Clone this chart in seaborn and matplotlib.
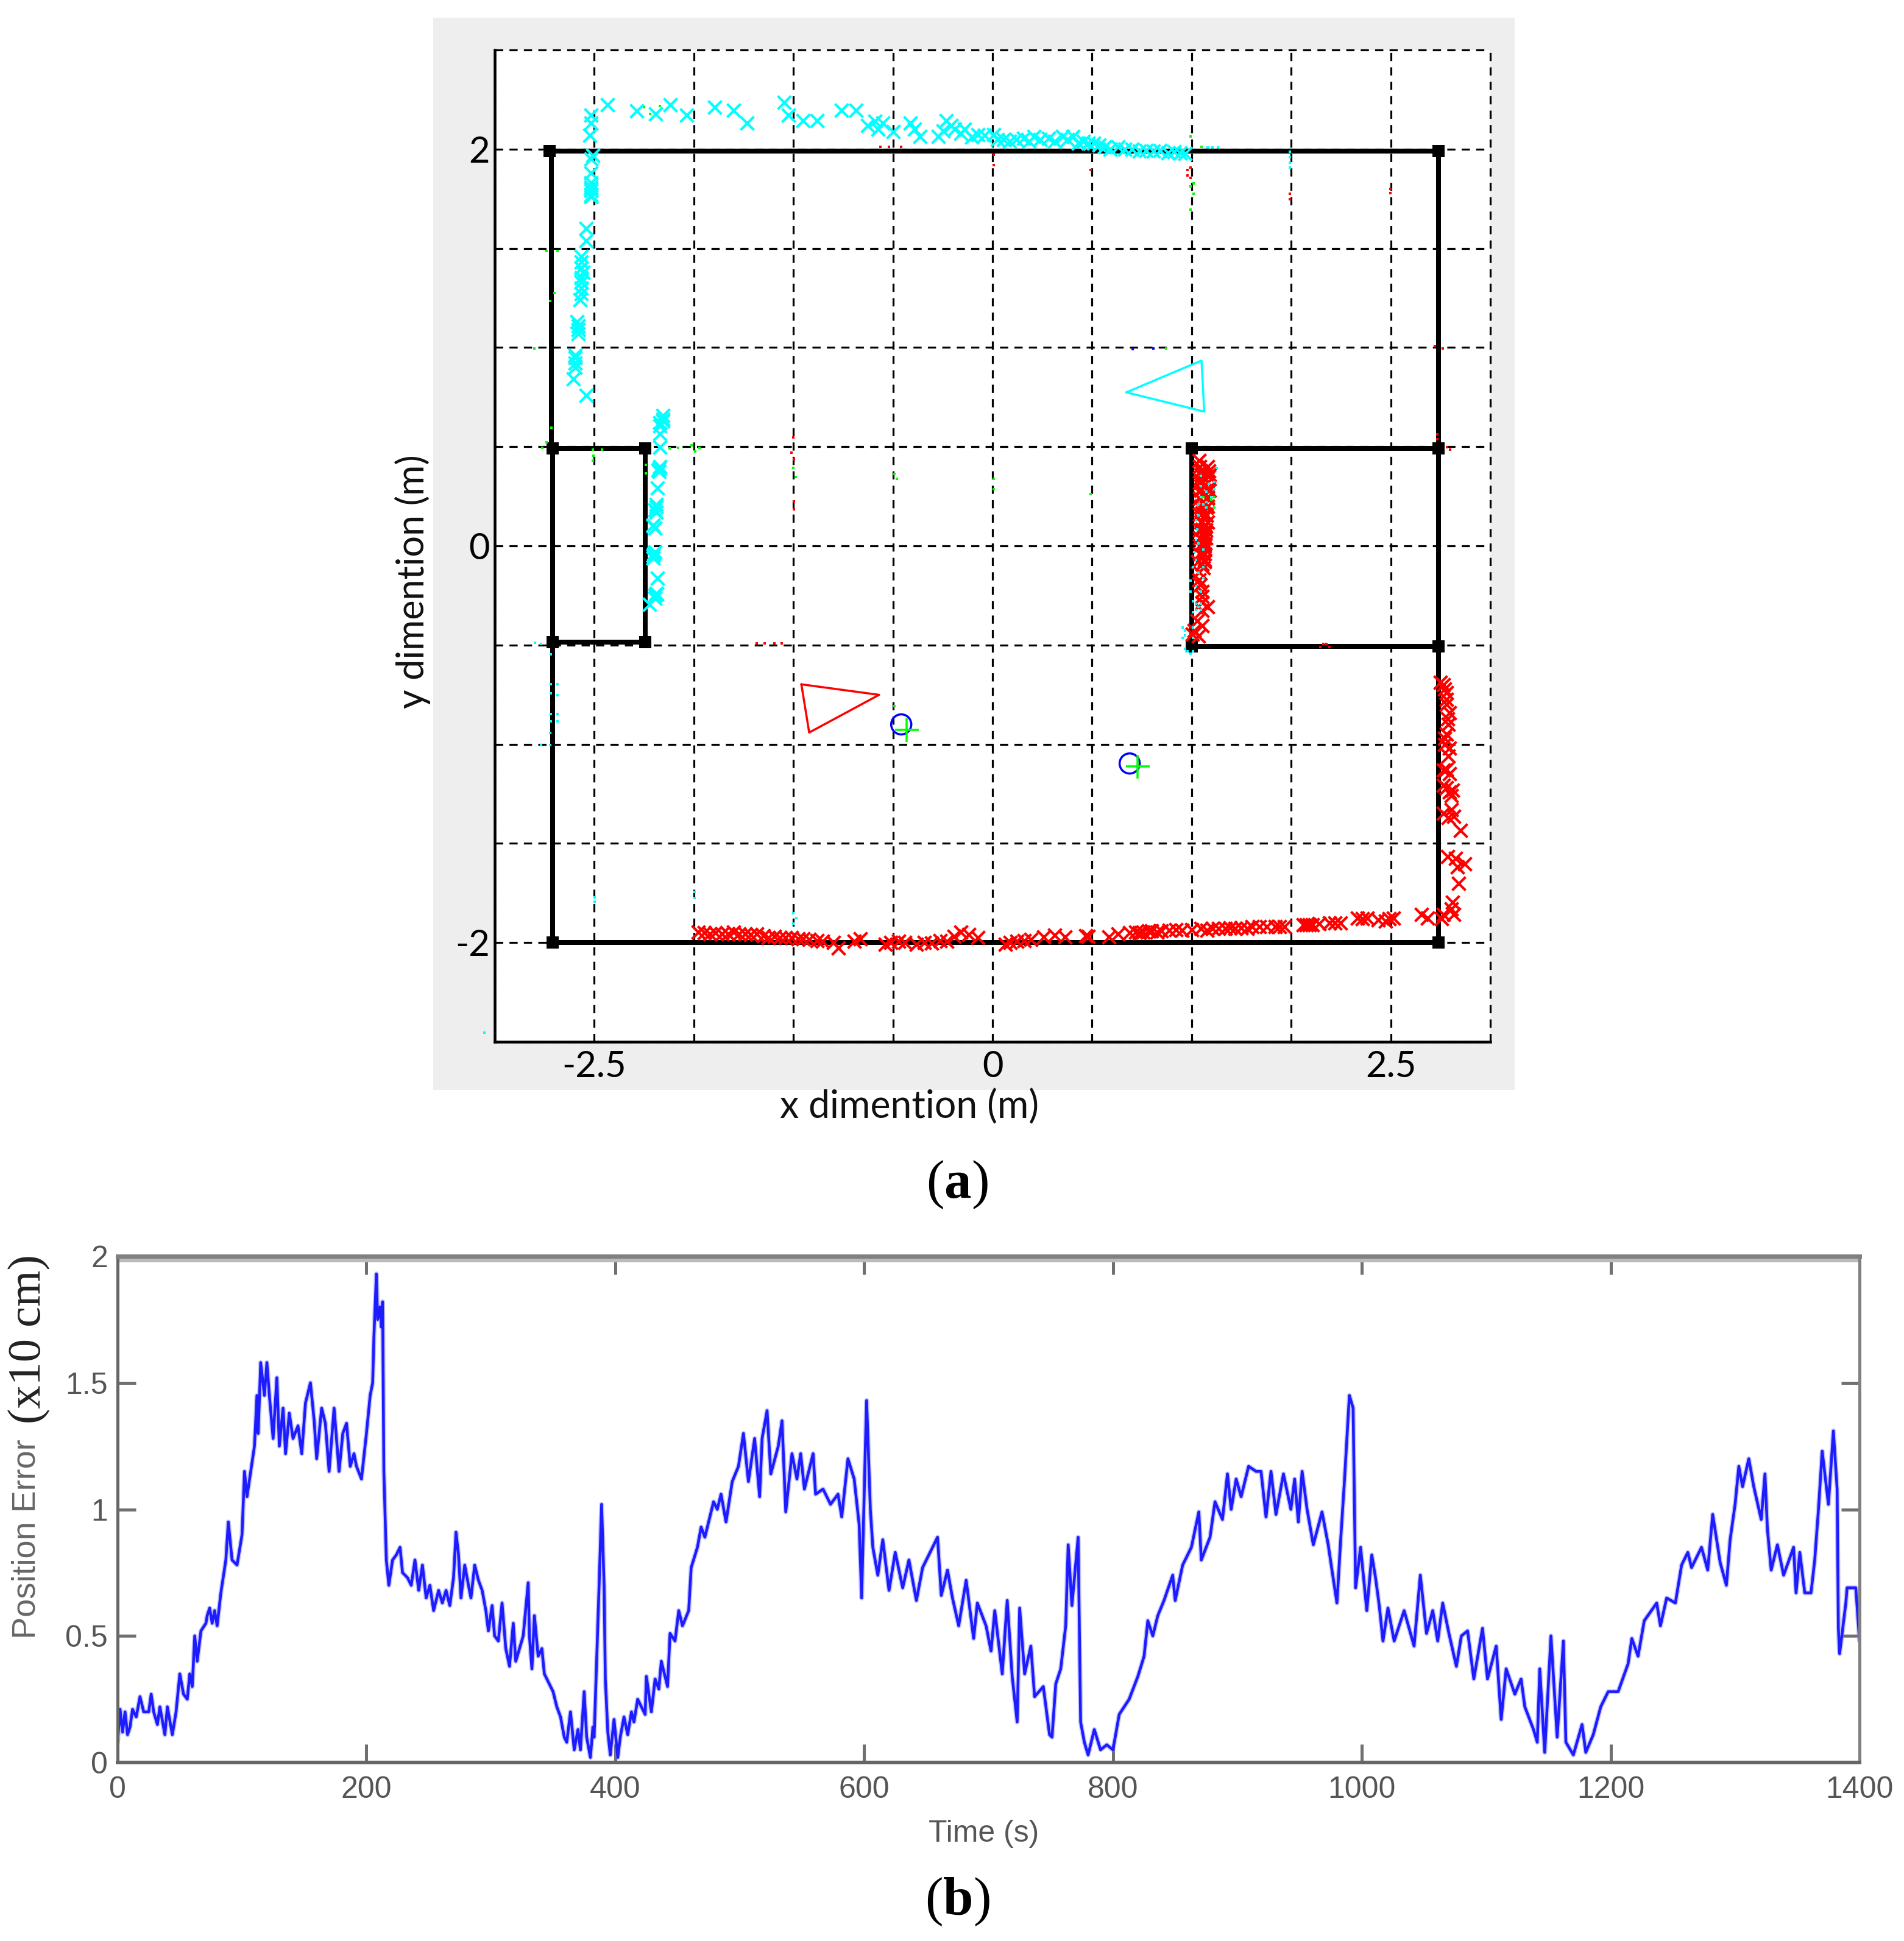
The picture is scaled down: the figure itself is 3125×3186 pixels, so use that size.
import matplotlib
matplotlib.use("Agg")
import matplotlib.pyplot as plt
from matplotlib.patches import Rectangle
import seaborn as sns

# --- panel (a): walls, metres
wall_x = [[-2.77, 2.80], [-2.77, -2.77], [-2.76, -2.76], [-2.76, -2.18], [-2.18, -2.18], [-2.76, -2.18],
          [-2.76, 2.80], [2.80, 2.80], [1.25, 2.80], [1.25, 1.25], [1.25, 2.80]]
wall_y = [[1.99, 1.99], [1.99, 0.49], [0.49, -2.0], [0.49, 0.49], [0.49, -0.485], [-0.485, -0.485],
          [-2.0, -2.0], [1.99, -2.0], [0.49, 0.49], [0.49, -0.507], [-0.507, -0.507]]
corner_x = [-2.78, 2.80, -2.76, -2.18, -2.76, -2.18, -2.76, 2.80, 1.25, 2.80, 1.25, 2.80]
corner_y = [1.99, 1.99, 0.49, 0.49, -0.485, -0.485, -2.0, -2.0, 0.49, 0.49, -0.507, -0.507]

# robot 1 scan
cyan_x = [-2.52, -2.52, -2.53, -2.51, -2.52, -2.52, -2.52, -2.52, -2.52, -2.55, -2.55, -2.58, -2.58, -2.57, -2.58,
          -2.58, -2.59, -2.60, -2.60, -2.62, -2.62, -2.63, -2.55,
          -2.417, -2.232, -2.115, -2.022, -1.919, -1.744, -1.627, -1.541, -1.31, -1.28, -1.188, -1.102, -0.949,
          -0.858, -0.785, -0.687, -0.622, -0.517, -0.456, -0.339, -0.29, -0.236, -0.175, -0.09, 0.008, 0.106,
          0.196, 0.262, 0.35, 0.438, 0.504, 0.57, 0.636, 0.702, 0.789, 0.877, 0.965, 1.053, 1.141, 1.207,
          -2.068, -2.068, -2.087, -2.087, -2.087, -2.094, -2.094, -2.103, -2.113, -2.113, -2.132, -2.119, -2.125,
          -2.132, -2.103, -2.106, -2.119, -2.154,
          -0.74, -0.72, -0.49, -0.31, -0.26, -0.20, -0.13, -0.05, 0.03, 0.07, 0.15, 0.23, 0.30, 0.39, 0.47, 0.54,
          0.60, 0.67, 0.74, 0.83, 0.92, 1.01, 1.10, 1.18,
          -2.52, -2.52, -2.52, -2.58, -2.58, -2.58, -2.61, -2.60, -2.62, -2.62,
          -2.07, -2.09, -2.09, -2.10, -2.11, -2.12, -2.13, -2.12, -2.13, -2.11, -2.12]
cyan_y = [2.17, 2.13, 2.07, 1.97, 1.88, 1.83, 1.81, 1.79, 1.77, 1.60, 1.54, 1.46, 1.43, 1.38, 1.33,
          1.30, 1.24, 1.11, 1.07, 0.95, 0.90, 0.84, 0.76,
          2.223, 2.193, 2.179, 2.223, 2.171, 2.211, 2.197, 2.13, 2.236, 2.171, 2.144, 2.144, 2.197,
          2.197, 2.118, 2.13, 2.088, 2.13, 2.065, 2.065, 2.144, 2.1, 2.1, 2.074, 2.074, 2.038,
          2.056, 2.065, 2.056, 2.065, 2.065, 2.038, 2.03, 2.012, 2.012, 2.0, 1.994, 1.994, 1.986, 1.977,
          0.656, 0.63, 0.605, 0.564, 0.497, 0.39, 0.375, 0.293, 0.196, 0.17, 0.104, 0.088, -0.04,
          -0.06, -0.162, -0.244, -0.265, -0.295,
          2.14, 2.10, 2.10, 2.09, 2.12, 2.08, 2.06, 2.07, 2.05, 2.05, 2.05, 2.04, 2.05, 2.04, 2.05, 2.03,
          2.03, 2.02, 2.0, 2.0, 1.99, 1.99, 1.98, 1.98,
          1.95, 1.80, 1.76, 1.40, 1.35, 1.27, 1.13, 1.09, 0.96, 0.92,
          0.64, 0.62, 0.40, 0.38, 0.21, 0.18, 0.10, -0.03, -0.05, -0.24, -0.25]

# robot 2 scan
red_x = [2.81, 2.839, 2.849, 2.858, 2.839, 2.868, 2.849, 2.829, 2.888, 2.829, 2.897, 2.936, 2.858, 2.907, 2.966,
         2.927, 2.888, 2.897, 2.829, 2.692, 2.732,
         2.517, 2.468, 2.351, 2.292, 2.185, 2.117, 1.99, 1.951, 1.834, 1.775, 1.677, 1.599, 1.521, 1.463, 1.346,
         1.307, 1.189, 1.111, 1.033, 0.945, 0.897, 0.789, 0.731, 0.584, 0.457, 0.389, 0.321,
         -1.846, -1.773, -1.7, -1.627, -1.553, -1.48, -1.407, -1.334, -1.261, -1.188, -1.066, -0.968, -0.87,
         -0.675, -0.59, -0.48, -0.382, -0.285, -0.2, -0.09, 0.081, 0.154, 0.24,
         1.298, 1.31, 1.358, 1.317, 1.31, 1.358, 1.336, 1.31, 1.349, 1.317, 1.349, 1.336, 1.31, 1.343, 1.317, 1.343,
         1.317, 1.336, 1.317, 1.336, 1.336, 1.336, 1.33, 1.324, 1.33, 1.317, 1.324, 1.298, 1.298, 1.305, 1.317,
         1.317, 1.317, 1.349, 1.317, 1.285, 1.317, 1.266, 1.254, 1.292,
         1.30, 1.35, 1.31, 1.36, 1.30, 1.35, 1.31, 1.36, 1.30, 1.35, 1.31, 1.35, 1.30, 1.34, 1.31, 1.35, 1.30, 1.34,
         1.30, 1.34, 1.30, 1.33, 1.30, 1.33, 1.29, 1.33,
         -1.81, -1.74, -1.66, -1.59, -1.52, -1.44, -1.37, -1.30, -1.22, -1.15, -1.10, -1.0, -0.83, -0.64, -0.55,
         -0.43, -0.33, -0.24, -0.15, 0.11, 0.2,
         0.60, 0.86, 0.92, 0.98, 1.0, 1.06, 1.15, 1.25, 1.38, 1.42, 1.49, 1.56, 1.63, 1.72, 1.8, 1.97, 2.01, 2.05,
         2.15, 2.32, 2.42, 2.49,
         2.83, 2.85, 2.85, 2.87, 2.86, 2.85, 2.84, 2.86, 2.83, 2.87, 2.85, 2.87, 2.88, 2.88, 2.86, 2.92, 2.82, 2.88]
red_y = [-0.687, -0.722, -0.775, -0.872, -0.969, -1.021, -1.127, -1.206, -1.233, -1.347, -1.365, -1.435, -1.567,
         -1.576, -1.603, -1.703, -1.796, -1.858, -1.858, -1.858, -1.876,
         -1.876, -1.893, -1.876, -1.876, -1.902, -1.902, -1.911, -1.911, -1.92, -1.92, -1.92, -1.928, -1.928, -1.928,
         -1.937, -1.928, -1.937, -1.937, -1.946, -1.946, -1.946, -1.955, -1.972, -1.967, -1.972, -1.964, -1.972,
         -1.948, -1.957, -1.957, -1.948, -1.957, -1.957, -1.975, -1.975, -1.975, -1.98, -1.992, -2.027, -1.992,
         -2.01, -1.992, -2.01, -2.001, -1.992, -1.948, -1.975, -2.01, -1.992, -1.983,
         0.431, 0.379, 0.379, 0.354, 0.328, 0.349, 0.308, 0.287, 0.287, 0.257, 0.246, 0.216, 0.195, 0.195, 0.165, 0.154,
         0.124, 0.103, 0.083, 0.062, 0.042, 0.011, -0.014, -0.04, -0.07, -0.091, -0.111, -0.132, -0.173, -0.198, -0.229,
         -0.255, -0.285, -0.306, -0.326, -0.377, -0.403, -0.428, -0.444, -0.454,
         0.40, 0.40, 0.36, 0.36, 0.32, 0.32, 0.28, 0.28, 0.24, 0.24, 0.20, 0.20, 0.16, 0.16, 0.12, 0.12, 0.08, 0.08,
         0.04, 0.04, 0.0, 0.0, -0.04, -0.04, -0.08, -0.08,
         -1.95, -1.95, -1.955, -1.955, -1.96, -1.965, -1.97, -1.975, -1.98, -1.985, -1.99, -2.0, -1.98, -2.0, -2.0,
         -2.0, -1.99, -1.97, -1.96, -2.0, -1.99,
         -1.97, -1.95, -1.95, -1.94, -1.94, -1.94, -1.935, -1.935, -1.93, -1.93, -1.925, -1.925, -1.92, -1.92, -1.92,
         -1.91, -1.91, -1.905, -1.90, -1.88, -1.885, -1.88,
         -0.70, -0.74, -0.80, -0.84, -0.90, -0.95, -1.0, -1.06, -1.13, -1.15, -1.22, -1.24, -1.26, -1.33, -1.37,
         -1.62, -1.88, -1.83]

# stray single pixels
speck_cyan_x = [1.407, 1.31, 1.391, 1.358, 1.31, 1.391, 1.343, 1.31, 1.375, 1.292, 1.343, 1.325, 1.343, 1.292, 1.276,
                1.285, 1.276, 1.292, 1.266, 1.324, 1.276, 1.26, 1.325, 1.292, 1.325, 1.243, 1.276, 1.243, 1.308, 1.26,
                1.276, 1.308, 1.292, 1.276, 1.308, 1.26, 1.26, 1.192, 1.209, 1.209, 1.192, 1.26, 1.209, 1.225, 1.26,
                1.243, 1.868, 1.868, 1.868, 1.868, 1.349, 1.382, 1.415, -2.773, -2.773, -2.732, -2.773, -2.732, -2.773,
                -2.732, -2.773, -2.732, -2.778, -2.834, -2.778, -2.498, -2.498, -1.871, -1.871, -1.249, -1.232, -1.249,
                -3.19, -2.871, -2.834]
speck_cyan_y = [0.392, 0.352, 0.323, 0.313, 0.30, 0.287, 0.272, 0.246, 0.246, 0.208, 0.221, 0.208, 0.195, 0.154, 0.129,
                0.083, 0.032, 0.011, -0.03, -0.019, -0.07, -0.109, -0.109, -0.134, -0.163, -0.175, -0.203, -0.229, -0.229,
                -0.28, -0.293, -0.293, -0.308, -0.321, -0.321, -0.334, -0.413, -0.413, -0.426, -0.451, -0.464, -0.464,
                -0.518, -0.531, -0.531, -0.544, 1.986, 1.96, 1.933, 1.906, 2.01, 2.01, 2.01, -0.548, -0.698, -0.698,
                -0.742, -0.751, -0.848, -0.848, -0.883, -0.883, -0.944, -1.003, -1.003, -1.772, -1.793, -1.746, -1.776,
                -1.851, -1.878, -1.904, -2.454, -0.487, -0.495]
speck_green_x = [-2.188, -2.151, -2.09, -2.798, -2.732, -2.749, -2.778, -2.878, -2.768, -2.798, -2.827, -2.51, -2.451,
                 -2.505, -2.51, -2.029, -1.973, -1.89, -1.866, -1.841, -2.176, -2.176, -1.249, -1.236, -0.614, -0.602,
                 0.008, 0.008, 1.242, 1.312, 1.261, 1.242, 1.261, 1.242, 1.092, 0.616, -0.614, 1.325, 1.391, 1.375, 1.391]
speck_green_y = [2.211, 2.179, 2.218, 1.487, 1.487, 1.276, 1.234, 0.996, 0.595, 0.521, 0.496, 0.485, 0.485,
                 0.454, 0.431, 0.492, 0.496, 0.506, 0.475, 0.496, 0.41, 0.366, 0.392, 0.348, 0.362, 0.339,
                 0.339, 0.286, 2.065, 2.012, 1.827, 1.813, 1.774, 1.695, 0.996, 0.26, -0.807, 0.246, 0.246, 0.233, 0.194]
speck_red_x = [-0.705, -0.651, -0.573, 0.008, 0.008, -1.249, -1.261, -1.246, -1.246, -1.246, 0.616, 1.242, 1.224, 1.224,
               1.242, 1.868, 1.868, 2.496, 2.496, 2.777, 2.827, 2.792, 2.792, 2.854, 2.871, -1.48, -1.432, -1.37, -1.322,
               2.058, 2.078, 2.097, 2.117]
speck_red_y = [2.012, 2.012, 2.012, 1.972, 1.92, 0.547, 0.471, 0.436, 0.225, 0.184, 1.894, 1.906, 1.894, 1.868,
               1.854, 1.774, 1.748, 1.801, 1.778, 1.008, 0.996, 0.563, 0.538, 0.498, 0.485, -0.49, -0.49, -0.49, -0.49,
               -0.511, -0.493, -0.493, -0.511]
speck_blue_x = [0.879, 1.011]
speck_blue_y = [0.991, 0.996]

# robots and goals
tri_red_x = [-1.20, -0.712, -1.151, -1.20]
tri_red_y = [-0.698, -0.751, -0.941, -0.698]
tri_cyan_x = [0.84, 1.312, 1.329, 0.84]
tri_cyan_y = [0.774, 0.934, 0.677, 0.774]
circle_x = [-0.573, 0.861]
circle_y = [-0.90, -1.097]
plus_x = [-0.539, 0.912]
plus_y = [-0.927, -1.111]

grid_x = [-3.125, -2.5, -1.875, -1.25, -0.625, 0, 0.625, 1.25, 1.875, 2.5, 3.125]
grid_x_labels = ["", "-2.5", "", "", "", "0", "", "", "", "2.5", ""]
grid_y = [-2.5, -2, -1.5, -1, -0.5, 0, 0.5, 1, 1.5, 2, 2.5]
grid_y_labels = ["", "-2", "", "", "", "0", "", "", "", "2", ""]

# --- panel (b): position error against time
time_s = [0, 2, 4, 6, 8, 10, 12, 15, 18, 21, 25, 27, 29, 32, 34, 38, 40, 44, 47, 50, 53, 56, 58, 60, 62, 64, 67, 71,
          72, 74, 76, 78, 80, 83, 87, 89, 92, 96, 100, 102, 104, 107, 110, 112, 113, 115, 118, 120, 122, 125, 128,
          130, 133, 135, 138, 141, 145, 148, 151, 155, 158, 160, 164, 167, 170, 174, 178, 181, 184, 187, 190, 192,
          196, 200, 203, 205, 206, 208, 209, 211, 212, 213, 214, 216, 218, 221, 224, 227, 229, 233, 236, 239, 242,
          245, 248, 251, 254, 258, 261, 264, 267, 270, 272, 274, 276, 279, 282, 284, 287, 290, 293, 296, 298, 301,
          303, 306, 309, 312, 315, 318, 320, 323, 326, 330, 331, 333, 335, 338, 341, 343, 346, 350, 353, 356, 359,
          361, 364, 367, 370, 372, 375, 377, 380, 382, 383, 385, 387, 389, 391, 392, 394, 396, 399, 402, 404, 407,
          410, 413, 415, 418, 424, 425, 429, 432, 435, 437, 442, 444, 448, 451, 454, 459, 461, 466, 469, 472, 479,
          482, 485, 489, 494, 499, 503, 507, 512, 516, 518, 522, 525, 531, 534, 537, 542, 546, 549, 552, 559, 561,
          567, 573, 579, 582, 587, 592, 596, 598, 601, 602, 605, 607, 611, 615, 620, 625, 631, 636, 642, 647, 653,
          659, 662, 667, 671, 676, 682, 688, 691, 698, 702, 705, 711, 715, 719, 723, 725, 729, 734, 737, 744, 749,
          751, 754, 758, 762, 764, 767, 772, 774, 777, 780, 785, 790, 795, 800, 805, 813, 820, 825, 828, 832, 836,
          841, 848, 850, 856, 863, 869, 871, 878, 882, 888, 892, 895, 899, 903, 909, 915, 919, 923, 927, 931, 937,
          943, 946, 949, 952, 956, 961, 968, 973, 976, 980, 983, 986, 990, 993, 995, 999, 1004, 1008, 1011, 1014,
          1017, 1021, 1026, 1034, 1042, 1047, 1052, 1057, 1061, 1065, 1070, 1076, 1080, 1085, 1090, 1097, 1101,
          1108, 1112, 1116, 1123, 1128, 1131, 1138, 1141, 1143, 1147, 1152, 1157, 1162, 1164, 1170, 1177, 1180,
          1186, 1192, 1198, 1206, 1214, 1217, 1222, 1227, 1237, 1240, 1245, 1252, 1257, 1262, 1265, 1273, 1278,
          1282, 1288, 1293, 1296, 1300, 1303, 1306, 1311, 1315, 1321, 1324, 1326, 1329, 1334, 1339, 1347, 1349,
          1352, 1356, 1361, 1364, 1367, 1370, 1375, 1379, 1382, 1383, 1384, 1389, 1390, 1397, 1400]
error_val = [0.08, 0.21, 0.12, 0.2, 0.11, 0.14, 0.21, 0.18, 0.26, 0.2, 0.2, 0.27, 0.2, 0.15, 0.22, 0.11, 0.22, 0.11,
             0.2, 0.35, 0.27, 0.25, 0.35, 0.3, 0.5, 0.4, 0.52, 0.55, 0.58, 0.61, 0.55, 0.6, 0.54, 0.67, 0.8, 0.95,
             0.8, 0.78, 0.9, 1.15, 1.05, 1.15, 1.25, 1.45, 1.3, 1.58, 1.45, 1.58, 1.45, 1.28, 1.52, 1.25, 1.4, 1.22,
             1.38, 1.28, 1.33, 1.22, 1.42, 1.5, 1.35, 1.2, 1.4, 1.34, 1.15, 1.4, 1.15, 1.3, 1.34, 1.17, 1.22, 1.17,
             1.12, 1.3, 1.45, 1.5, 1.68, 1.93, 1.75, 1.8, 1.72, 1.82, 1.15, 0.8, 0.7, 0.8, 0.82, 0.85, 0.75, 0.73,
             0.7, 0.8, 0.68, 0.78, 0.65, 0.7, 0.6, 0.68, 0.63, 0.68, 0.62, 0.73, 0.91, 0.82, 0.65, 0.78, 0.7, 0.65,
             0.78, 0.72, 0.68, 0.6, 0.52, 0.62, 0.5, 0.48, 0.63, 0.45, 0.38, 0.55, 0.4, 0.45, 0.5, 0.71, 0.5, 0.37,
             0.58, 0.42, 0.45, 0.35, 0.32, 0.28, 0.22, 0.18, 0.1, 0.08, 0.2, 0.05, 0.13, 0.05, 0.28, 0.1, 0.02, 0.14,
             0.1, 0.4, 0.7, 1.02, 0.7, 0.33, 0.12, 0.03, 0.17, 0.02, 0.1, 0.18, 0.11, 0.2, 0.16, 0.25, 0.19, 0.34, 0.2,
             0.33, 0.29, 0.4, 0.3, 0.51, 0.48, 0.6, 0.54, 0.6, 0.77, 0.85, 0.93, 0.89, 1.03, 1.0, 1.06, 0.95, 1.11,
             1.17, 1.3, 1.11, 1.28, 1.05, 1.28, 1.39, 1.14, 1.25, 1.35, 0.99, 1.22, 1.12, 1.22, 1.08, 1.22, 1.06,
             1.08, 1.02, 1.06, 0.97, 1.2, 1.12, 0.94, 0.65, 1.25, 1.43, 1.0, 0.85, 0.74, 0.88, 0.68, 0.83, 0.69, 0.8,
             0.64, 0.77, 0.83, 0.89, 0.66, 0.76, 0.65, 0.54, 0.72, 0.49, 0.63, 0.54, 0.44, 0.6, 0.35, 0.64, 0.34,
             0.16, 0.61, 0.35, 0.46, 0.26, 0.3, 0.11, 0.1, 0.31, 0.37, 0.54, 0.86, 0.62, 0.89, 0.16, 0.08, 0.03, 0.13,
             0.05, 0.07, 0.05, 0.19, 0.25, 0.34, 0.42, 0.56, 0.5, 0.58, 0.64, 0.74, 0.64, 0.78, 0.85, 0.99, 0.8, 0.89,
             1.03, 0.96, 1.14, 1.0, 1.12, 1.05, 1.17, 1.15, 1.15, 0.97, 1.15, 0.98, 1.14, 1.0, 1.12, 0.95, 1.15, 1.0,
             0.86, 0.99, 0.86, 0.76, 0.63, 0.88, 1.11, 1.45, 1.4, 0.69, 0.85, 0.6, 0.82, 0.73, 0.62, 0.48, 0.61, 0.48,
             0.6, 0.46, 0.74, 0.51, 0.6, 0.48, 0.63, 0.51, 0.38, 0.5, 0.52, 0.33, 0.53, 0.33, 0.46, 0.17, 0.37, 0.27,
             0.33, 0.22, 0.13, 0.08, 0.37, 0.04, 0.5, 0.1, 0.48, 0.08, 0.03, 0.15, 0.04, 0.11, 0.22, 0.28, 0.28, 0.39,
             0.49, 0.42, 0.56, 0.63, 0.54, 0.65, 0.63, 0.78, 0.83, 0.77, 0.85, 0.76, 0.98, 0.79, 0.7, 0.88, 1.02,
             1.17, 1.09, 1.2, 1.09, 0.96, 1.14, 0.92, 0.76, 0.86, 0.74, 0.85, 0.67, 0.83, 0.67, 0.67, 0.8, 1.0, 1.23,
             1.02, 1.31, 1.08, 0.53, 0.43, 0.63, 0.69, 0.69, 0.48]
time_ticks = [0, 200, 400, 600, 800, 1000, 1200, 1400]
error_ticks = [0, 0.5, 1, 1.5, 2]
error_labels = ["0", "0.5", "1", "1.5", "2"]

W, H, DPI = 3125, 3186, 200


def pt(px):
    return px * 72 / DPI


def axes_box(left, right, top, bottom):
    return [left / W, 1 - bottom / H, (right - left) / W, (bottom - top) / H]


sns.set_theme(style="ticks")
plt.rcParams["font.family"] = ["Lato", "DejaVu Sans"]
plt.rcParams["mathtext.fontset"] = "custom"
plt.rcParams["mathtext.bf"] = "Liberation Serif:bold"
plt.rcParams["mathtext.rm"] = "Liberation Serif"

fig = plt.figure(figsize=(W / DPI, H / DPI), dpi=DPI, facecolor="white")
fig.add_artist(Rectangle((711 / W, 1 - 1789 / H), (2486 - 711) / W, (1789 - 29) / H,
                         transform=fig.transFigure, facecolor="#eeeeee", edgecolor="none", zorder=-1))

ax = fig.add_axes(axes_box(812, 2446, 82, 1710))
ax.set_facecolor("white")
for xs, ys in zip(wall_x, wall_y):
    sns.lineplot(x=xs, y=ys, ax=ax, color="black", lw=pt(8), sort=False, estimator=None,
                 solid_capstyle="butt", zorder=3)
sns.scatterplot(x=corner_x, y=corner_y, ax=ax, marker="s", color="black", s=pt(20) ** 2, linewidth=0, zorder=3)

x_size = pt(22) ** 2
x_lw = pt(4.2)
sns.scatterplot(x=cyan_x, y=cyan_y, ax=ax, marker="x", color="#00ffff", s=x_size, linewidth=x_lw, zorder=4)
sns.scatterplot(x=red_x, y=red_y, ax=ax, marker="x", color="#ff0000", s=x_size, linewidth=x_lw, zorder=4)

sp = pt(4.5) ** 2
sns.scatterplot(x=speck_green_x, y=speck_green_y, ax=ax, marker="s", color="#00ff00", s=sp, linewidth=0, zorder=5)
sns.scatterplot(x=speck_red_x, y=speck_red_y, ax=ax, marker="s", color="#ff0000", s=sp, linewidth=0, zorder=5)
sns.scatterplot(x=speck_blue_x, y=speck_blue_y, ax=ax, marker="s", color="#0000ff", s=sp, linewidth=0, zorder=5)
sns.scatterplot(x=speck_cyan_x, y=speck_cyan_y, ax=ax, marker="s", color="#00ffff", s=sp, linewidth=0, zorder=5,
                clip_on=False)

sns.lineplot(x=tri_red_x, y=tri_red_y, ax=ax, color="#ff0000", lw=pt(3.5), sort=False, estimator=None, zorder=4)
sns.lineplot(x=tri_cyan_x, y=tri_cyan_y, ax=ax, color="#00ffff", lw=pt(3.5), sort=False, estimator=None, zorder=4)
ax.scatter(circle_x, circle_y, marker="o", facecolors="none", edgecolors="#0000ff", s=pt(33) ** 2,
           linewidths=pt(3.5), zorder=5)
sns.scatterplot(x=plus_x, y=plus_y, ax=ax, marker="+", color="#00ff00", s=pt(39) ** 2, linewidth=pt(3.5), zorder=6)

ax.set_xlim(-3.125, 3.125)
ax.set_ylim(-2.5, 2.5)
ax.set_xticks(grid_x, grid_x_labels)
ax.set_yticks(grid_y, grid_y_labels)
ax.grid(True, color="black", linestyle=(0, (4.2, 3.2)), linewidth=pt(3.2))
ax.set_axisbelow(True)
for line in ax.get_xgridlines() + ax.get_ygridlines():
    line.set_clip_on(False)
ax.tick_params(length=0, labelsize=21.5, colors="black")
ax.tick_params(axis="x", pad=pt(14))
ax.tick_params(axis="y", pad=pt(8))
for name in ["left", "bottom"]:
    ax.spines[name].set_linewidth(pt(4.5))
    ax.spines[name].set_color("black")
    ax.spines[name].set_visible(True)
ax.spines["top"].set_visible(False)
ax.spines["right"].set_visible(False)
fig.text(1493 / W, 1 - 1817 / H, "x dimention (m)", fontsize=22.5, ha="center", va="center", color="#111111")
fig.text(677 / W, 1 - 955 / H, "y dimention (m)", fontsize=22, ha="center", va="center", rotation=90,
         color="#111111")
fig.text(1571 / W, 1 - 1945 / H, r"($\mathbf{a}$)", fontsize=32, ha="center", va="center", color="black",
         family="Liberation Serif")

bx = fig.add_axes(axes_box(193, 3052, 2062, 2893))
bx.set_facecolor("white")
sns.lineplot(x=time_s, y=error_val, ax=bx, color="#8080ff", lw=pt(8), alpha=0.45, sort=False, estimator=None)
sns.lineplot(x=time_s, y=error_val, ax=bx, color="#1c1cff", lw=pt(4.5), sort=False, estimator=None)
bx.axhline(1.984, color="#bbbbbb", lw=pt(6), zorder=1)
bx.set_xlim(0, 1400)
bx.set_ylim(0, 2)
bx.set_xticks(time_ticks, [str(t) for t in time_ticks])
bx.set_yticks(error_ticks, error_labels)
bx.tick_params(axis="both", direction="in", length=pt(30), width=pt(5), color="#707070", top=True, right=True,
               labelsize=18, labelcolor="#555555", labelfontfamily="Liberation Sans")
bx.tick_params(axis="x", pad=pt(22))
bx.tick_params(axis="y", pad=pt(16))
for name, c, w in [("top", "#808080", 7), ("left", "#666666", 5), ("bottom", "#666666", 6), ("right", "#808080", 5)]:
    bx.spines[name].set_color(c)
    bx.spines[name].set_linewidth(pt(w))
    bx.spines[name].set_visible(True)
fig.text(1615 / W, 1 - 3010 / H, "Time (s)", fontsize=18, ha="center", va="center", color="#555555",
         family="Liberation Sans")
fig.text(44 / W, 1 - 2526 / H, "Position Error", fontsize=19.5, ha="center", va="center", rotation=90,
         color="#666666", family="Liberation Sans")
fig.text(47 / W, 1 - 2198 / H, "(x10 cm)", fontsize=27.5, ha="center", va="center", rotation=90, color="#222222",
         family="Liberation Serif")
fig.text(1571 / W, 1 - 3122 / H, r"($\mathbf{b}$)", fontsize=32, ha="center", va="center", color="black",
         family="Liberation Serif")

fig.savefig("out.png", dpi=DPI, facecolor="white")
